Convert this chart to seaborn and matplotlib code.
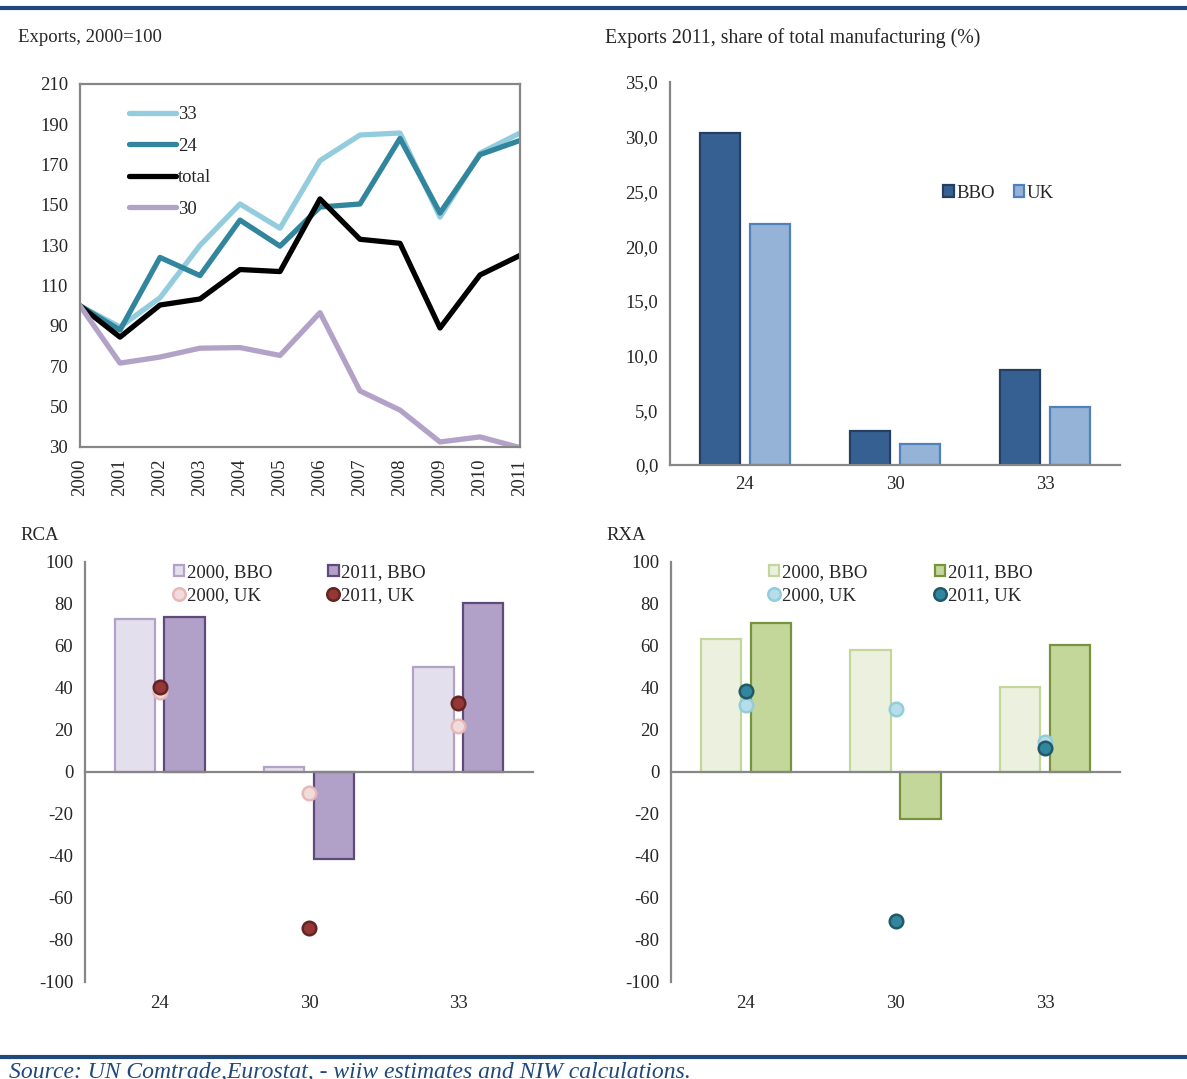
import numpy as np
import pandas as pd
import matplotlib
matplotlib.use("Agg")
import matplotlib.pyplot as plt
import matplotlib.transforms as mtransforms
from matplotlib.patches import Patch
from matplotlib.lines import Line2D
from matplotlib.ticker import FuncFormatter, FixedLocator
import seaborn as sns

sns.set_style("white")
plt.rcParams['font.family'] = ['Liberation Serif', 'DejaVu Serif']
plt.rcParams['axes.unicode_minus'] = False
plt.rcParams['font.size'] = 13.5

# ---- data ----
years = list(range(2000, 2012))
idx_33 = [100, 89.5, 104, 130, 150.5, 138.5, 172, 184.7, 185.7, 144, 175.7, 185.7]
idx_24 = [100, 88, 124, 115, 142.5, 129.6, 149, 150.5, 183, 146, 175, 182]
idx_total = [100, 84.5, 100.4, 103.4, 118, 117, 153, 133, 131, 89, 115.3, 125]
idx_30 = [100, 71.6, 74.6, 79, 79.3, 75.4, 96.6, 57.8, 48.3, 32.5, 35, 29.7]

sectors = ['24', '30', '33']
share_bbo = [30.3, 3.1, 8.7]
share_uk = [22.0, 1.9, 5.3]

rca_bbo_2000 = [72.7, 2.2, 49.8]
rca_bbo_2011 = [73.8, -41.2, 80.5]
rca_uk_2000 = [38.3, -10.0, 21.8]
rca_uk_2011 = [40.5, -74.4, 32.7]

rxa_bbo_2000 = [63.3, 58.0, 40.5]
rxa_bbo_2011 = [70.8, -22.6, 60.5]
rxa_uk_2000 = [31.7, 29.8, 14.5]
rxa_uk_2011 = [38.8, -70.8, 11.6]

GRID = '#868686'
NAVY = '#1F497D'
FS = 13.5

fig = plt.figure(figsize=(11.87, 10.79), dpi=100)
W, H = 1187, 1079


def px_axes(l, t, r, b):
    return fig.add_axes([l / W, 1 - b / H, (r - l) / W, (b - t) / H])


def style_spines(ax, sides):
    for s in ['left', 'right', 'top', 'bottom']:
        ax.spines[s].set_visible(s in sides)
        ax.spines[s].set_color(GRID)
        ax.spines[s].set_linewidth(1.6)
    ax.tick_params(direction='out', length=5, width=1.6, color=GRID, labelsize=FS)


# ---- top-left: export index lines ----
ax1 = px_axes(80, 84, 520, 447)
df_lines = pd.DataFrame({
    'year': years * 4,
    'value': idx_33 + idx_24 + idx_total + idx_30,
    'series': ['33'] * 12 + ['24'] * 12 + ['total'] * 12 + ['30'] * 12,
})
line_pal = {'33': '#93CDDD', '24': '#31859C', 'total': '#000000', '30': '#B3A2C7'}
sns.lineplot(data=df_lines, x='year', y='value', hue='series', palette=line_pal,
             linewidth=3.8, ax=ax1, hue_order=['33', '24', 'total', '30'])
ax1.set_xlim(2000, 2011)
ax1.set_ylim(30, 210)
ax1.set_yticks(range(30, 211, 20))
ax1.set_xticks(years)
ax1.set_xticklabels([str(y) for y in years], rotation=90)
ax1.set_xlabel('')
ax1.set_ylabel('')
style_spines(ax1, ['left', 'right', 'top', 'bottom'])
leg = ax1.legend(loc='upper left', bbox_to_anchor=(0.073, 0.985), frameon=False,
                 handlelength=2.5, handletextpad=0.12, labelspacing=0.76, fontsize=FS)
for l in leg.get_lines():
    l.set_linewidth(3.8)

# ---- top-right: share bars ----
ax2 = px_axes(670, 82, 1120, 465)
df_share = pd.DataFrame({
    'sector': sectors * 2,
    'share': share_bbo + share_uk,
    'region': ['BBO'] * 3 + ['UK'] * 3,
})
share_fill = {'BBO': '#376092', 'UK': '#95B3D7'}
share_edge = {'BBO': '#243F60', 'UK': '#4F81BD'}
sns.barplot(data=df_share, x='sector', y='share', hue='region', order=sectors,
            palette=share_fill, width=0.667, gap=0.19, saturation=1, ax=ax2, legend=False)
for cont, key in zip(ax2.containers, ['BBO', 'UK']):
    for p in cont:
        p.set_edgecolor(share_edge[key])
        p.set_linewidth(1.6)
ax2.set_xlim(-0.5, 2.5)
ax2.set_ylim(0, 35)
ax2.set_yticks(np.arange(0, 35.1, 5))
ax2.yaxis.set_major_formatter(FuncFormatter(lambda v, _: f'{v:.1f}'.replace('.', ',')))
ax2.xaxis.set_major_locator(FixedLocator([-0.5, 0.5, 1.5, 2.5]))
ax2.xaxis.set_minor_locator(FixedLocator([0, 1, 2]))
ax2.set_xticklabels([])
ax2.set_xticklabels(sectors, minor=True)
ax2.set_xlabel('')
ax2.set_ylabel('')
style_spines(ax2, ['left', 'bottom'])
ax2.tick_params(axis='x', which='minor', length=0, pad=8, labelsize=FS)
share_handles = [Patch(facecolor=share_fill[k], edgecolor=share_edge[k], linewidth=1.6)
                 for k in ['BBO', 'UK']]
ax2.legend(share_handles, ['BBO', 'UK'], loc='center left', bbox_to_anchor=(0.57, 0.71),
           frameon=False, ncol=2, handlelength=0.55, handleheight=0.55, handletextpad=0.15,
           columnspacing=1.0, fontsize=FS)


# ---- bottom: RCA / RXA ----
def rel_panel(ax, b2000, b2011, u2000, u2011, fills, edges, dots, dot_edges,
              leg_x, colspace):
    df = pd.DataFrame({
        'sector': sectors * 2,
        'value': b2000 + b2011,
        'label': ['2000, BBO'] * 3 + ['2011, BBO'] * 3,
    })
    sns.barplot(data=df, x='sector', y='value', hue='label', order=sectors,
                palette=dict(zip(['2000, BBO', '2011, BBO'], fills)),
                width=0.667, gap=0.19, saturation=1, ax=ax, legend=False)
    for cont, ec in zip(ax.containers, edges):
        for p in cont:
            p.set_edgecolor(ec)
            p.set_linewidth(1.6)
    pos = np.arange(len(sectors))
    sns.scatterplot(x=pos, y=u2000, color=dots[0], edgecolor=dot_edges[0], linewidth=1.8,
                    s=95, ax=ax, zorder=5, legend=False)
    sns.scatterplot(x=pos, y=u2011, color=dots[1], edgecolor=dot_edges[1], linewidth=1.8,
                    s=95, ax=ax, zorder=6, legend=False)
    ax.set_xlim(-0.5, 2.5)
    ax.set_ylim(-100, 100)
    ax.set_yticks(range(-100, 101, 20))
    ax.set_xticks([-0.5, 0.5, 1.5, 2.5])
    ax.set_xticklabels([])
    ax.set_xlabel('')
    ax.set_ylabel('')
    style_spines(ax, ['left', 'bottom'])
    ax.spines['bottom'].set_position(('data', 0))
    trans = mtransforms.blended_transform_factory(ax.transData, ax.transAxes)
    for i, s in enumerate(sectors):
        ax.text(i, -0.05, s, transform=trans, ha='center', va='center', fontsize=FS)
    handles = [
        Patch(facecolor=fills[0], edgecolor=edges[0], linewidth=1.6),
        Line2D([], [], marker='o', linestyle='', markersize=9, markerfacecolor=dots[0],
               markeredgecolor=dot_edges[0], markeredgewidth=1.8),
        Patch(facecolor=fills[1], edgecolor=edges[1], linewidth=1.6),
        Line2D([], [], marker='o', linestyle='', markersize=9, markerfacecolor=dots[1],
               markeredgecolor=dot_edges[1], markeredgewidth=1.8),
    ]
    labels = ['2000, BBO', '2000, UK', '2011, BBO', '2011, UK']
    ax.legend(handles, labels, loc='upper left', bbox_to_anchor=(leg_x, 1.035),
              frameon=False, ncol=2, handlelength=0.55, handleheight=0.55,
              handletextpad=0.15, columnspacing=colspace, labelspacing=0.3, fontsize=FS)


ax3 = px_axes(85, 562, 533, 982)
rel_panel(ax3, rca_bbo_2000, rca_bbo_2011, rca_uk_2000, rca_uk_2011,
          fills=['#E4DFEC', '#B1A0C7'], edges=['#B3A2C7', '#604A7B'],
          dots=['#F2DCDB', '#953735'], dot_edges=['#E6B9B8', '#632523'],
          leg_x=0.16, colspace=3.0)

ax4 = px_axes(671, 562, 1120, 982)
rel_panel(ax4, rxa_bbo_2000, rxa_bbo_2011, rxa_uk_2000, rxa_uk_2011,
          fills=['#EBF1DE', '#C4D79B'], edges=['#C3D69B', '#77933C'],
          dots=['#B7DEE8', '#31859C'], dot_edges=['#93CDDD', '#215968'],
          leg_x=0.18, colspace=3.6)

# ---- panel titles and frame lines ----
fig.text(18 / W, 1 - 38 / H, 'Exports, 2000=100', fontsize=FS, va='center')
fig.text(605 / W, 1 - 38 / H, 'Exports 2011, share of total manufacturing (%)',
         fontsize=FS + 0.8, va='center')
fig.text(20 / W, 1 - 535 / H, 'RCA', fontsize=FS, va='center')
fig.text(606 / W, 1 - 535 / H, 'RXA', fontsize=FS, va='center')

fig.add_artist(plt.Line2D([0, 1], [1 - 8 / H] * 2, color=NAVY, linewidth=3))
fig.add_artist(plt.Line2D([0, 1], [1 - 1057 / H] * 2, color=NAVY, linewidth=3))
fig.text(9 / W, 1 - 1062 / H, 'Source: UN Comtrade,Eurostat, - wiiw estimates and NIW calculations.',
         fontsize=17, style='italic', color=NAVY, va='top')

fig.savefig('out.png', dpi=100)
